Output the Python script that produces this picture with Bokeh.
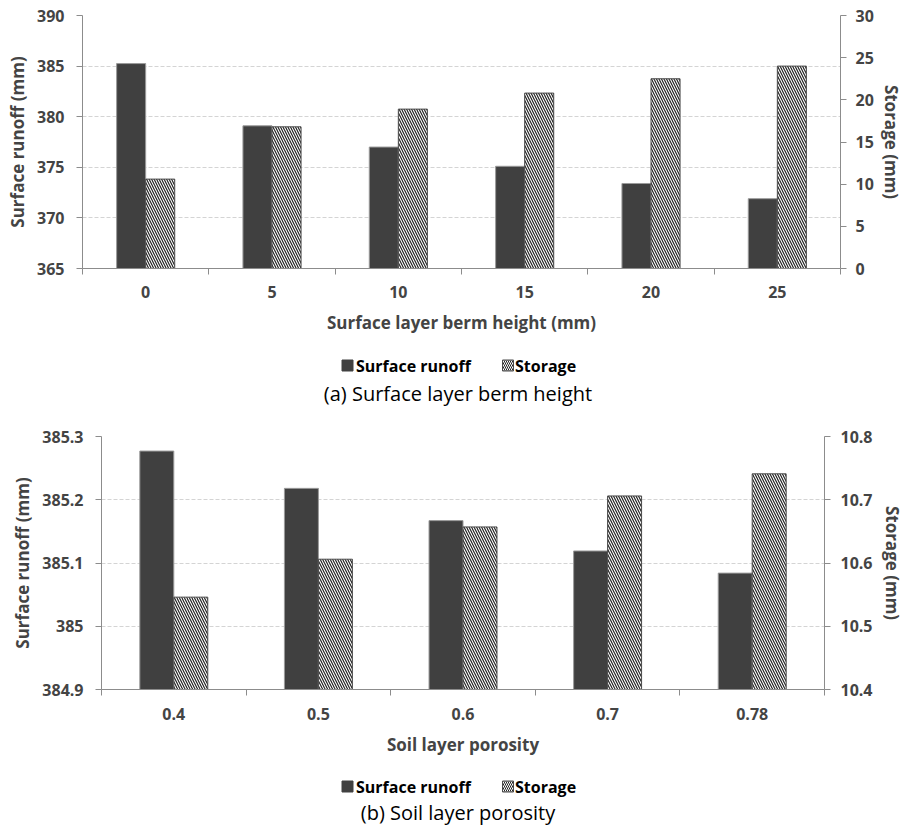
import numpy as np
from bokeh.plotting import figure
from bokeh.models import Range1d, LinearAxis, FixedTicker, CustomJSTickFormatter
from bokeh.core.properties import value
from bokeh.embed import file_html
from bokeh.resources import INLINE

# ---- data ----
berm_heights = ["0", "5", "10", "15", "20", "25"]
berm_runoff = [385.25, 379.1, 377.0, 375.1, 373.4, 371.9]
berm_storage = [10.6, 16.8, 18.9, 20.8, 22.5, 24.0]

porosity = ["0.4", "0.5", "0.6", "0.7", "0.78"]
por_runoff = [385.277, 385.218, 385.167, 385.119, 385.084]
por_storage = [10.546, 10.606, 10.657, 10.706, 10.741]

berm_left_ticks = [365, 370, 375, 380, 385, 390]
berm_right_ticks = [0, 5, 10, 15, 20, 25, 30]
por_left_ticks = [384.9, 385.0, 385.1, 385.2, 385.3]
por_right_ticks = [10.4, 10.5, 10.6, 10.7, 10.8]

series_names = ["Surface runoff", "Storage"]

FONT = "Open Sans"
AXIS_GRAY = "#8c8c8c"
W = 906

RUNOFF_STYLE = dict(fill_color="#404040", line_color="#9a9a9a", line_width=1)
STORAGE_STYLE = dict(fill_color="white", line_color="#4a4a4a", line_width=1,
                     hatch_pattern="\\", hatch_color="#222222",
                     hatch_scale=5.0, hatch_weight=1.2)


def make_chart(cats, runoff, storage, lticks, rticks, xlabel, bar_w,
               height, mbl, mbr, mbt, mbb, lstand, rlab_stand, rstand, xstand):
    n = len(cats)
    p = figure(width=W, height=height, output_backend="svg",
               toolbar_location=None, title_location=None,
               x_range=Range1d(0, n), y_range=Range1d(lticks[0], lticks[-1]),
               min_border_left=mbl, min_border_right=mbr,
               min_border_top=mbt, min_border_bottom=mbb)
    p.outline_line_color = None
    p.extra_y_ranges = {"storage": Range1d(rticks[0], rticks[-1])}

    centers = np.arange(n) + 0.5
    p.vbar(x=centers - bar_w / 2, top=runoff, bottom=lticks[0], width=bar_w,
           **RUNOFF_STYLE)
    p.vbar(x=centers + bar_w / 2, top=storage, bottom=rticks[0], width=bar_w,
           y_range_name="storage", **STORAGE_STYLE)

    fmt = CustomJSTickFormatter(code="return String(Number(tick.toFixed(2)));")

    xa = p.xaxis[0]
    xa.ticker = FixedTicker(ticks=list(centers), minor_ticks=list(range(n + 1)))
    xa.formatter = CustomJSTickFormatter(args=dict(labels=cats),
                                         code="return labels[Math.floor(tick)];")
    xa.major_tick_out = 0
    xa.major_tick_in = 0
    xa.minor_tick_out = 6
    xa.minor_tick_in = 0
    xa.minor_tick_line_color = AXIS_GRAY
    xa.axis_line_color = AXIS_GRAY
    xa.major_label_text_font = FONT
    xa.major_label_text_font_style = "bold"
    xa.major_label_text_font_size = "16px"
    xa.major_label_standoff = xstand
    xa.axis_label = xlabel
    xa.axis_label_text_font = FONT
    xa.axis_label_text_font_style = "bold"
    xa.axis_label_text_font_size = "17px"
    xa.axis_label_standoff = 10

    ya = p.yaxis[0]
    ya.ticker = FixedTicker(ticks=lticks)
    ya.formatter = fmt
    ya.axis_label = "Surface runoff (mm)"
    ra = LinearAxis(y_range_name="storage", ticker=FixedTicker(ticks=rticks),
                    formatter=fmt, axis_label="Storage (mm)")
    p.add_layout(ra, "right")
    for ax, lab_st, st in ((ya, 12, lstand), (ra, rlab_stand, rstand)):
        ax.major_tick_out = 6
        ax.major_tick_in = 0
        ax.minor_tick_out = 0
        ax.minor_tick_in = 0
        ax.axis_line_color = AXIS_GRAY
        ax.major_tick_line_color = AXIS_GRAY
        ax.major_label_text_font = FONT
        ax.major_label_text_font_style = "bold"
        ax.major_label_text_font_size = "16px"
        ax.major_label_standoff = lab_st
        ax.axis_label_text_font = FONT
        ax.axis_label_text_font_style = "bold"
        ax.axis_label_text_font_size = "17px"
        ax.axis_label_standoff = st

    p.xgrid.visible = False
    p.ygrid.ticker = FixedTicker(ticks=lticks)
    p.ygrid.grid_line_color = "#d4d4d4"
    p.ygrid.grid_line_dash = "4 2"
    return p


def make_legend_caption(caption, height, leg_y, cap_y):
    p = figure(width=W, height=height, output_backend="svg",
               toolbar_location=None, title_location=None,
               x_axis_location=None, y_axis_location=None,
               x_range=Range1d(0, W), y_range=Range1d(height, 0),
               min_border=0)
    p.outline_line_color = None
    p.grid.visible = False
    # legend swatches and labels (layout positions in screen pixels)
    sw_x = [347.0, 507.5]
    txt_x = [355.5, 514.5]
    p.rect(x=[sw_x[0]], y=[leg_y], width=11, height=11, width_units="screen",
           height_units="screen", fill_color="#404040", line_color="#404040")
    p.rect(x=[sw_x[1]], y=[leg_y], width=11, height=11, width_units="screen",
           height_units="screen", fill_color="white", line_color="#4a4a4a",
           line_width=1, hatch_pattern="\\", hatch_color="#222222",
           hatch_scale=4.0, hatch_weight=1.0)
    p.text(x=txt_x, y=[leg_y, leg_y], text=series_names,
           text_font=value(FONT), text_font_style="bold",
           text_font_size="16px", text_baseline="middle", text_align="left",
           text_color="black")
    p.text(x=[457.5], y=[cap_y], text=[caption], text_font=value(FONT),
           text_font_style="normal", text_font_size="20px",
           text_baseline="alphabetic", text_align="center", text_color="black")
    return p


top = make_chart(berm_heights, berm_runoff, berm_storage, berm_left_ticks,
                 berm_right_ticks, "Surface layer berm height (mm)", 0.23,
                 348, 82, 66, 15, 80, 5, 9, 3, 11)
leg1 = make_legend_caption("(a) Surface layer berm height", 65, 17, 45)
bottom = make_chart(porosity, por_runoff, por_storage, por_left_ticks,
                    por_right_ticks, "Soil layer porosity", 0.235,
                    356, 101, 79, 23, 80, 5, 10, 5, 12)
leg2 = make_legend_caption("(b) Soil layer porosity", 61, 17, 43)

open("out.html", "w").write(file_html([top, leg1, bottom, leg2], INLINE))
